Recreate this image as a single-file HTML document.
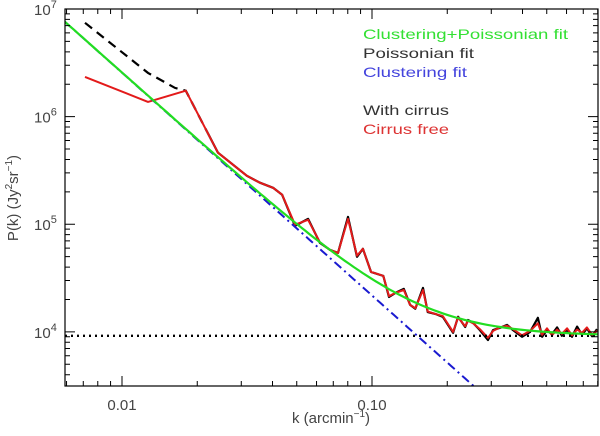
<!DOCTYPE html>
<html><head><meta charset="utf-8"><style>
html,body{margin:0;padding:0;background:#fff;width:600px;height:436px;overflow:hidden}
svg{display:block;font-family:"Liberation Sans",sans-serif}
</style></head><body>
<svg id="chart" width="600" height="436" viewBox="0 0 600 436">
<defs><clipPath id="clip"><rect x="65" y="9" width="533" height="377"/></clipPath></defs>
<g id="marks" clip-path="url(#clip)"></g>
<g id="axes"></g>
<g id="legend">
<text x="363" y="39" fill="#33e033" font-size="14" textLength="205" lengthAdjust="spacingAndGlyphs">Clustering+Poissonian fit</text>
<text x="363" y="58" fill="#333" font-size="14" textLength="111" lengthAdjust="spacingAndGlyphs">Poissonian fit</text>
<text x="363" y="77" fill="#4444dd" font-size="14" textLength="104" lengthAdjust="spacingAndGlyphs">Clustering fit</text>
<text x="363" y="115" fill="#333" font-size="14" textLength="86" lengthAdjust="spacingAndGlyphs">With cirrus</text>
<text x="363" y="134" fill="#dd3333" font-size="14" textLength="86" lengthAdjust="spacingAndGlyphs">Cirrus free</text>
</g>
<text x="331" y="423" text-anchor="middle" font-size="15" fill="#444">k  (arcmin<tspan dy="-6" font-size="10">−1</tspan><tspan dy="6">)</tspan></text>
<text transform="translate(18,198) rotate(-90)" text-anchor="middle" font-size="15" fill="#444">P(k)  (Jy<tspan dy="-6" font-size="10">2</tspan><tspan dy="6">sr</tspan><tspan dy="-6" font-size="10">−1</tspan><tspan dy="6">)</tspan></text>
</svg>
<script>
const sharedK=[0.0219,0.0242,0.0316,0.0356,0.0402,0.0437,0.0492,0.0555,0.0619,0.0679,0.0731,0.0802,0.0871,0.092,0.0991,0.111,0.117,0.124,0.134,0.142,0.149,0.160,0.167,0.179,0.192,0.211,0.221,0.236,0.242,0.254,0.270,0.291,0.305,0.325,0.347,0.366,0.398,0.429,0.461,0.479,0.501,0.525,0.550,0.575,0.603,0.631,0.661,0.692,0.724,0.759,0.794];
const blackSharedP=[7.22e5,4.62e5,2.82e5,2.43e5,2.18e5,1.88e5,9.67e4,1.12e5,6.71e4,5.78e4,5.42e4,1.17e5,4.98e4,5.91e4,3.61e4,3.31e4,2.11e4,2.30e4,2.51e4,1.78e4,1.64e4,2.56e4,1.53e4,1.47e4,1.38e4,9.8e3,1.38e4,1.11e4,1.29e4,1.21e4,1.04e4,8.4e3,1.04e4,1.09e4,1.16e4,1.04e4,9.0e3,1.0e4,1.35e4,9.0e3,1.04e4,9.5e3,1.1e4,9.2e3,1.05e4,9.0e3,1.12e4,9.4e3,1.08e4,9.1e3,1.06e4];
const redSharedP=[7.22e5,4.62e5,2.82e5,2.43e5,2.18e5,1.88e5,9.9e4,1.10e5,6.8e4,5.78e4,5.42e4,1.12e5,5.1e4,5.91e4,3.61e4,3.31e4,2.15e4,2.30e4,2.45e4,1.78e4,1.66e4,2.45e4,1.55e4,1.47e4,1.40e4,1.0e4,1.36e4,1.13e4,1.27e4,1.2e4,1.06e4,8.8e3,1.02e4,1.1e4,1.14e4,1.06e4,9.3e3,1.02e4,1.2e4,9.4e3,1.08e4,9.3e3,1.05e4,9.6e3,1.08e4,9.3e3,1.05e4,9.8e3,1.1e4,9.4e3,1.02e4];
const blackHeadK=[0.00711,0.0127,0.0163,0.018];
const blackHeadP=[7.45e6,2.55e6,1.85e6,1.74e6];
const redHeadK=[0.00711,0.0127,0.018];
const redHeadP=[2.34e6,1.37e6,1.74e6];
const clusterAmp=2.56e6, clusterSlope=-2.07, clusterPivot=0.01;
const poissonLevel=9200;
const xTickVals=[0.01,0.1];
const xTickLabels=["0.01","0.10"];
const yTickExps=[4,5,6,7];

const X0=65,X1=598,Y0=9,Y1=386;
const lxMin=-2.228,lxMax=-0.096,lyMin=3.497,lyMax=7;
function xs(k){return X0+(Math.log10(k)-lxMin)/(lxMax-lxMin)*(X1-X0);}
function ys(p){return Y1-(Math.log10(p)-lyMin)/(lyMax-lyMin)*(Y1-Y0);}
const NS="http://www.w3.org/2000/svg";
const marks=document.getElementById('marks'),axes=document.getElementById('axes');
function mk(tag,attrs,parent){const e=document.createElementNS(NS,tag);for(const a in attrs)e.setAttribute(a,attrs[a]);parent.appendChild(e);return e;}
function poly(ks,ps,attrs,name){
  const pts=ks.map((k,i)=>xs(k).toFixed(1)+","+ys(ps[i]).toFixed(1)).join(" ");
  const e=mk('polyline',Object.assign({points:pts,fill:'none'},attrs),marks);
  
  
  return e;
}
const fitK=[];for(let i=0;i<=120;i++)fitK.push(Math.pow(10,lxMin+(lxMax-lxMin)*i/120));
const clus=k=>clusterAmp*Math.pow(k/clusterPivot,clusterSlope);
const pMin=Math.pow(10,lyMin);
const kEnd=clusterPivot*Math.pow(pMin/clusterAmp,1/clusterSlope);
const clusK=fitK.filter(k=>k<kEnd).concat([kEnd]);
poly(blackHeadK.concat(sharedK.slice(0,1)),blackHeadP.concat(blackSharedP.slice(0,1)),{stroke:'#000','stroke-width':2.2,'stroke-dasharray':'9,6'},'with-cirrus-low-k-dashed');
poly(sharedK,blackSharedP,{stroke:'#000','stroke-width':2.2,'stroke-linejoin':'round'},'with-cirrus-line');
poly(redHeadK.concat(sharedK),redHeadP.concat(redSharedP),{stroke:'#e31a1a','stroke-width':2,'stroke-linejoin':'round'},'cirrus-free-line');
poly([fitK[0],fitK[120]],[poissonLevel,poissonLevel],{stroke:'#000','stroke-width':2.4,'stroke-dasharray':'2,4'},'poissonian-fit-line');
poly(clusK,clusK.map(clus),{stroke:'#1a1ad0','stroke-width':2,'stroke-dasharray':'9,4,2,4'},'clustering-fit-line');
poly(fitK,fitK.map(k=>clus(k)+poissonLevel),{stroke:'#22dd22','stroke-width':2.2},'clustering-poissonian-fit-line');
const fr=mk('rect',{x:X0,y:Y0,width:X1-X0,height:Y1-Y0,fill:'none',stroke:'#000','stroke-width':1.2},axes);


for(let d=-3;d<=0;d++)for(let m=1;m<=9;m++){
  const k=m*Math.pow(10,d);const lk=Math.log10(k);if(lk<lxMin||lk>lxMax)continue;
  const x=xs(k),L=m===1?10:5;
  const t=mk('path',{d:`M${x},${Y1}v${-L}M${x},${Y0}v${L}`,stroke:'#000','stroke-width':1},axes);
  
  
}
xTickVals.forEach((v,i)=>{
  const t=mk('text',{x:xs(v),y:410,'text-anchor':'middle','font-size':15,fill:'#444'},axes);
  t.textContent=xTickLabels[i];
  
  
});
for(let e=3;e<=7;e++)for(let m=1;m<=9;m++){
  const p=m*Math.pow(10,e);const lp=Math.log10(p);if(lp<lyMin-1e-6||lp>lyMax+1e-6)continue;
  const y=ys(p),L=m===1?10:5;
  const t=mk('path',{d:`M${X0},${y}h${L}M${X1},${y}h${-L}`,stroke:'#000','stroke-width':1},axes);
  
  
}
yTickExps.forEach(e=>{
  const y=ys(Math.pow(10,e));
  const t=mk('text',{x:34,y:y+6,'font-size':15,fill:'#444'},axes);
  t.textContent='10';
  const s=mk('tspan',{dy:-7,'font-size':11},t);s.textContent=String(e);
  
  
});
</script>
</body></html>
